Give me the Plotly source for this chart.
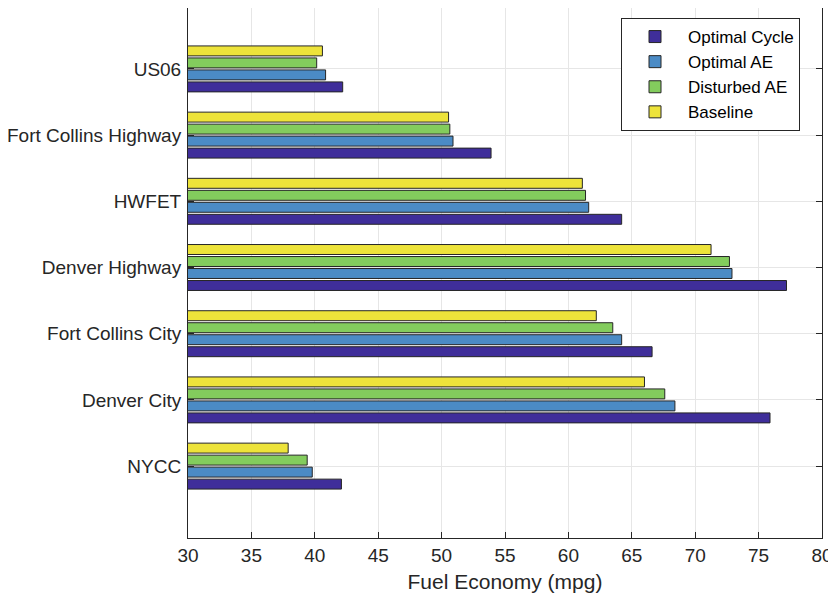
import plotly.graph_objects as go

categories = ["NYCC", "Denver City", "Fort Collins City", "Denver Highway",
              "HWFET", "Fort Collins Highway", "US06"]
positions = [1, 2, 3, 4, 5, 6, 7]

optimal_cycle = [42.1, 75.9, 66.6, 77.2, 64.2, 53.9, 42.2]
optimal_ae = [39.8, 68.4, 64.2, 72.9, 61.6, 50.9, 40.85]
disturbed_ae = [39.4, 67.6, 63.5, 72.7, 61.35, 50.65, 40.15]
baseline = [37.9, 66.0, 62.2, 71.25, 61.1, 50.55, 40.6]

series_names = ["Optimal Cycle", "Optimal AE", "Disturbed AE", "Baseline"]
series_values = [optimal_cycle, optimal_ae, disturbed_ae, baseline]
colors = ["#3F2E9A", "#4B8BC5", "#83CC5D", "#EDE33A"]

x_ticks = [30, 35, 40, 45, 50, 55, 60, 65, 70, 75, 80]

fig = go.Figure()
for name, vals, col in zip(series_names, series_values, colors):
    fig.add_trace(go.Bar(
        y=positions, x=vals, name=name, orientation="h",
        marker=dict(color=col, line=dict(color="#262626", width=1)),
        legendgroup=name,
    ))

# the page body has an 8px margin, so the figure is sized/offset to compensate
font_family = "Liberation Sans, Arial, sans-serif"
fig.update_layout(
    width=828, height=589,
    margin=dict(l=180, r=14, t=0, b=59, autoexpand=False),
    barmode="group", bargap=0.275, bargroupgap=0.17,
    plot_bgcolor="white", paper_bgcolor="white",
    font=dict(family=font_family, size=19, color="#262626"),
    legend=dict(
        x=(621 - 188) / 634, y=1 - 10 / 530,
        xanchor="left", yanchor="top",
        bgcolor="white", bordercolor="#262626", borderwidth=1,
        font=dict(size=17, color="#000000"),
        tracegroupgap=0, itemwidth=56,
        traceorder="normal",
    ),
    xaxis=dict(
        range=[30, 80], tickvals=x_ticks, ticktext=[str(t) for t in x_ticks],
        ticks="inside", ticklen=6, tickcolor="#262626",
        showline=True, linecolor="#262626", linewidth=1, mirror=False,
        showgrid=True, gridcolor="#E6E6E6", gridwidth=1, zeroline=False,
        title=dict(text="Fuel Economy (mpg)", font=dict(size=21), standoff=9),
        tickfont=dict(size=19), automargin=False,
    ),
    yaxis=dict(
        range=[-0.086, 7.92], tickvals=positions, ticktext=categories,
        ticks="inside", ticklen=6, tickcolor="#262626",
        showline=True, linecolor="#262626", linewidth=1, mirror="ticks",
        showgrid=True, gridcolor="#E6E6E6", gridwidth=1, zeroline=False,
        tickfont=dict(size=19), automargin=False, ticklabelstandoff=2,
    ),
)

fig.write_html("out.html")
